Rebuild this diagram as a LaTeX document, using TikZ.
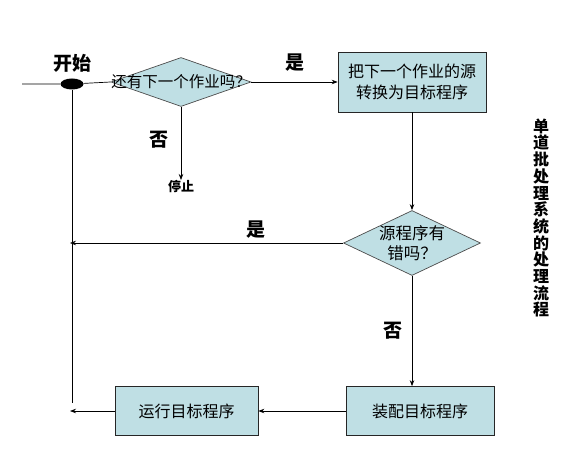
\documentclass[tikz,border=0pt]{standalone}
\usepackage{fontspec}
\setmainfont{Noto Sans CJK SC}
\usepackage{tikz}
\usetikzlibrary{arrows.meta,shapes.geometric}
\definecolor{boxfill}{RGB}{191,223,228}

\begin{document}
\begin{tikzpicture}[x=1pt, y=-1pt,
  box/.style={draw=black!85, fill=boxfill, line width=0.7pt, minimum height=49pt,
              align=center, font=\fontsize{16}{21}\selectfont},
  decision/.style={diamond, draw=black!70, fill=boxfill, line width=0.7pt, inner sep=0pt},
  arrow/.style={-{Stealth[length=6pt, width=4.5pt]}, line width=0.7pt},
  line/.style={line width=0.7pt},
  tag/.style={font=\fontsize{19}{19}\selectfont\bfseries, inner sep=0pt}
]
\useasboundingbox (0,0) rectangle (575,457);

% --- Start ---
\coordinate (in) at (22,84);
\node[ellipse, fill=black, minimum width=23pt, minimum height=11pt, inner sep=0pt] (dot) at (72,84) {};
\node[tag] (start) at (72,63) {开始};

% --- Top row ---
\node[decision, minimum width=140pt, minimum height=49pt,
      label={[font=\fontsize{15.5}{18}\selectfont, inner sep=0pt]center:还有下一个作业吗？}] (chk) at (181,82) {};
\node[box, minimum width=148pt, minimum height=60pt] (conv) at (412,82) {把下一个作业的源\\转换为目标程序};
\node[font=\fontsize{13}{13}\selectfont\bfseries, inner sep=0pt, anchor=north] (stop) at (181,180) {停止};

% --- Middle ---
\node[decision, minimum width=137pt, minimum height=65pt,
      label={[font=\fontsize{16.5}{20}\selectfont, align=center, inner sep=0pt]center:源程序有\\错吗？}] (err) at (412,243) {};

% --- Bottom row ---
\node[box, minimum width=148pt] (load) at (420,411) {装配目标程序};
\node[box, minimum width=143pt] (run) at (186.5,411) {运行目标程序};
\coordinate (back) at (72,403);
\coordinate (errend) at (70,243);
\coordinate (runend) at (70,411);

% Title
\node[font=\fontsize{16}{16.7}\selectfont\bfseries, align=center, inner sep=0pt] (title) at (541,218)
  {单\\道\\批\\处\\理\\系\\统\\的\\处\\理\\流\\程};

% Arrows
\draw[line] (in) -- (dot) -- (chk.west);
\draw[line] (dot) -- (back);
\draw[arrow] (chk.east) -- (conv.west) node[tag, midway, above=10pt] (yes1) {是};
\draw[arrow] (chk.south) -- (stop.north) node[tag, pos=0.45, left=12pt] (no1) {否};
\draw[arrow] (conv.south) -- (err.north);
\draw[arrow] (err.west) -- (errend) node[tag, pos=0.32, above=4pt] (yes2) {是};
\draw[arrow] (err.south) -- (err.south |- load.north) node[tag, midway, left=9pt] (no2) {否};
\draw[arrow] (load.west) -- (run.east);
\draw[arrow] (run.west) -- (runend);

\end{tikzpicture}
\end{document}
